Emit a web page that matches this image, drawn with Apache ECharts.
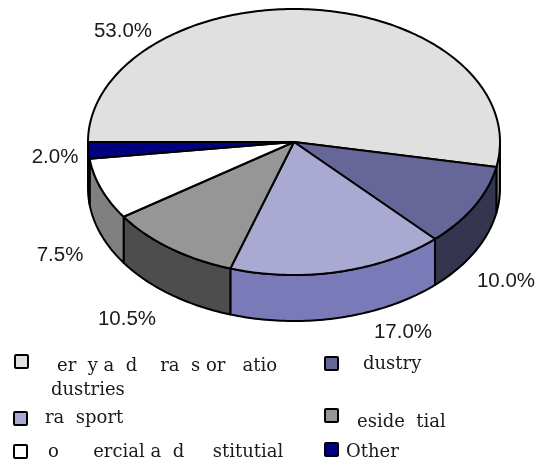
<!DOCTYPE html>
<html>
<head>
<meta charset="utf-8">
<style>html,body{margin:0;padding:0;background:#fff}#chart{width:542px;height:464px}</style>
<script src="https://cdn.jsdelivr.net/npm/echarts@6/dist/echarts.min.js"></script>
</head>
<body>
<div id="chart"></div>
<script>
// shares in drawing order, clockwise from the left edge of the pie
const values = [53.0, 10.0, 17.0, 10.5, 7.5, 2.0];
const legendLines = [
  ['er  y a  d    ra  s or   atio', 'dustries'],
  ['dustry'],
  ['ra  sport'],
  ['eside  tial'],
  ['o      ercial a  d     stitutial'],
  ['Other']
];
const topColors = ['#e0e0e0', '#666699', '#a9a9d1', '#969696', '#ffffff', '#000080'];
const wallColors = ['#808080', '#35354f', '#7a7ab8', '#4d4d4d', '#808080', '#000040'];

const CX = 294, CY = 142, RX = 206, RY = 133, DEPTH = 46;
const START = 180;
// label centres
const labelPos = [[123, 31], [506, 281], [403, 332], [127, 319], [60, 255], [55, 157]];
// legend swatch top-left, then text x and vertical middle per line
const legendPos = [
  { box: [15, 355], text: [[57, 366], [51, 390]] },
  { box: [325, 357], text: [[363, 364]] },
  { box: [14, 412], text: [[45, 418]] },
  { box: [325, 409], text: [[357, 422]] },
  { box: [14, 445], text: [[48, 452]] },
  { box: [325, 443], text: [[346, 452]] }
];

function rimPoint(deg, drop) {
  const a = deg * Math.PI / 180;
  return [CX + RX * Math.cos(a), CY + RY * Math.sin(a) + drop];
}
function arc(from, to, drop) {
  const pts = [];
  for (let d = from; d < to; d += 1) pts.push(rimPoint(d, drop));
  pts.push(rimPoint(to, drop));
  return pts;
}

const total = values.reduce(function (s, v) { return s + v; }, 0);
const edgeStyle = { stroke: '#000', lineWidth: 2, lineJoin: 'round' };

function renderSlice(params, api) {
  const i = params.dataIndex;
  let from = START;
  for (let k = 0; k < i; k++) from += values[k] / total * 360;
  const to = from + api.value(0) / total * 360;
  const children = [];
  // only the front half of the rim shows a wall
  const wallFrom = Math.max(from, 360), wallTo = Math.min(to, 540);
  if (wallTo > wallFrom) {
    children.push({
      type: 'polygon',
      shape: { points: arc(wallFrom, wallTo, 0).concat(arc(wallFrom, wallTo, DEPTH).reverse()) },
      style: Object.assign({ fill: wallColors[i] }, edgeStyle)
    });
  }
  children.push({
    type: 'polygon',
    shape: { points: [[CX, CY]].concat(arc(from, to, 0)) },
    style: Object.assign({ fill: topColors[i] }, edgeStyle)
  });
  children.push({
    type: 'text',
    style: {
      x: labelPos[i][0], y: labelPos[i][1],
      text: api.value(0).toFixed(1) + '%',
      fill: '#1a1a1a', font: '20.5px "Liberation Sans"', align: 'center', verticalAlign: 'middle'
    }
  });
  return { type: 'group', children: children };
}

const legendItems = [];
legendLines.forEach(function (lines, i) {
  const p = legendPos[i];
  legendItems.push({
    type: 'rect',
    shape: { x: p.box[0], y: p.box[1], width: 13, height: 13, r: 1 },
    style: { fill: topColors[i], stroke: '#000', lineWidth: 2 }
  });
  lines.forEach(function (line, j) {
    legendItems.push({
      type: 'text',
      style: {
        x: p.text[j][0], y: p.text[j][1], text: line,
        fill: '#1a1a1a', font: '18px "DejaVu Serif"', verticalAlign: 'middle'
      }
    });
  });
});

const chart = echarts.init(document.getElementById('chart'));
chart.setOption({
  animation: false,
  backgroundColor: '#fff',
  graphic: legendItems,
  series: [{
    type: 'custom',
    coordinateSystem: 'none',
    renderItem: renderSlice,
    data: values.map(function (v) { return [v]; })
  }]
});
</script>
</body>
</html>
